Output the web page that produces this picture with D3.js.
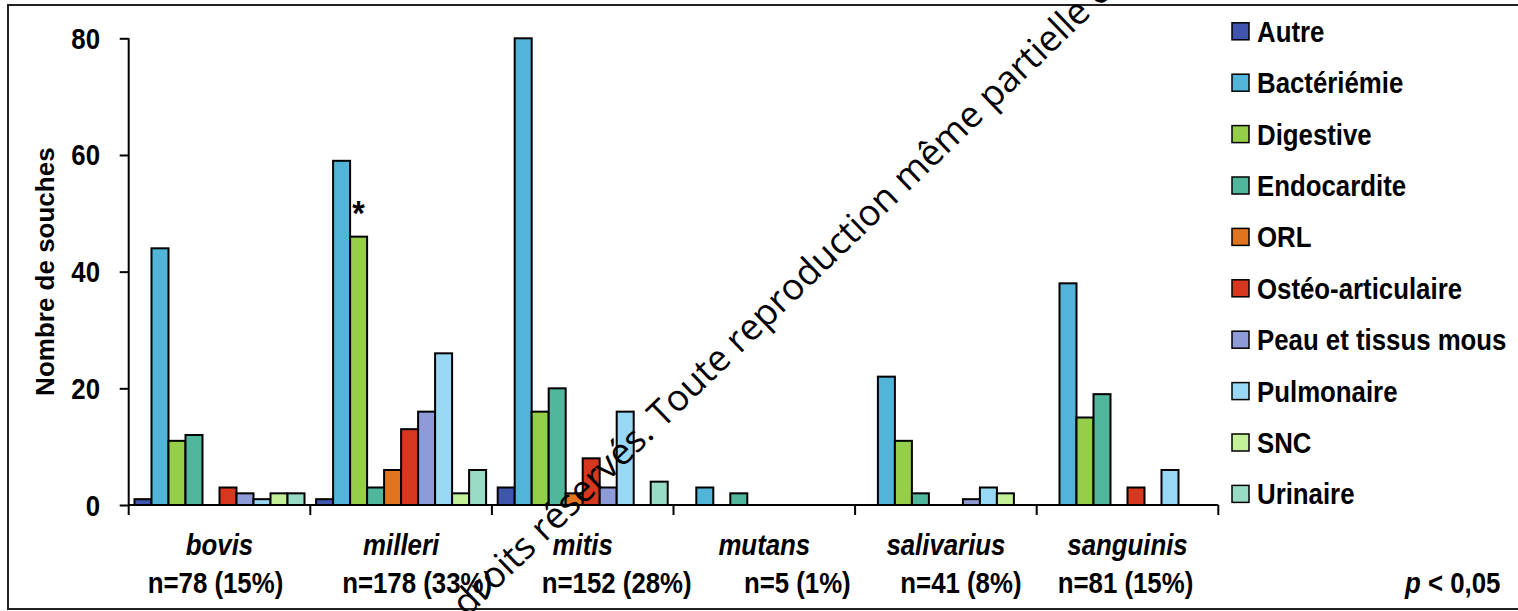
<!DOCTYPE html>
<html>
<head>
<meta charset="utf-8">
<script src="https://cdn.jsdelivr.net/npm/d3@7"></script>
<style>
  html, body { margin: 0; padding: 0; background: #fff; }
  svg { display: block; }
  .lbl { font-family: "Liberation Sans", Arial, sans-serif; font-weight: bold; font-size: 29px; fill: #000; }
</style>
</head>
<body>
<svg id="chart" width="1518" height="611"></svg>
<script>
// Species (categories) and their sample sizes
const species = ["bovis", "milleri", "mitis", "mutans", "salivarius", "sanguinis"];
const speciesCounts = ["n=78 (15%)", "n=178 (33%)", "n=152 (28%)", "n=5 (1%)", "n=41 (8%)", "n=81 (15%)"];

// Infection sites (series)
const sites = ["Autre", "Bactériémie", "Digestive", "Endocardite", "ORL",
               "Ostéo-articulaire", "Peau et tissus mous", "Pulmonaire", "SNC", "Urinaire"];

// Number of strains per site, one value per species
const autre            = [1, 1, 3, 0, 0, 0];
const bacteriemie      = [44, 59, 80, 3, 22, 38];
const digestive        = [11, 46, 16, 0, 11, 15];
const endocardite      = [12, 3, 20, 2, 2, 19];
const orl              = [0, 6, 2, 0, 0, 0];
const osteoArticulaire = [3, 13, 8, 0, 0, 3];
const peauTissusMous   = [2, 16, 3, 0, 1, 0];
const pulmonaire       = [1, 26, 16, 0, 3, 6];
const snc              = [2, 2, 0, 0, 2, 0];
const urinaire         = [2, 6, 4, 0, 0, 0];

const yTicks = [0, 20, 40, 60, 80];
const yTitle = "Nombre de souches";
const pValue = ["p", " < 0,05"];
// Significance marker: milleri / Digestive
const starSpecies = "milleri", starSite = "Digestive";

const siteColors = ["#4055ac", "#51b4d8", "#95cf4a", "#50b69c", "#e0741f",
                    "#d5381f", "#8f9bd7", "#99d8f4", "#c5f09a", "#98dcc5"];

// Horizontal offsets of the sample-size lines under each species name
const countShift = [-4, 16, 34, 33, 15, -2];

const values = [autre, bacteriemie, digestive, endocardite, orl,
                osteoArticulaire, peauTissusMous, pulmonaire, snc, urinaire];

const svg = d3.select("#chart");
const squeeze = 0.89;

// Outer frame
svg.append("path")
  .attr("d", "M1530,5 H8 V609 H1530")
  .attr("fill", "none").attr("stroke", "#222").attr("stroke-width", 2);

const plot = { left: 128.7, right: 1218.3, top: 38.3, bottom: 505 };

const x0 = d3.scaleBand().domain(species).range([plot.left, plot.right]).padding(0);
const x1 = d3.scaleBand().domain(sites).range([0, x0.bandwidth()])
  .paddingInner(0).paddingOuter(0.341);
const y = d3.scaleLinear().domain([0, 80]).range([plot.bottom, plot.top]);
const color = d3.scaleOrdinal().domain(sites).range(siteColors);

function sq(sel, x, yy) {
  return sel.attr("transform", `translate(${x},${yy}) scale(${squeeze},1)`);
}

// Bars
const barData = [];
species.forEach((sp, i) => {
  sites.forEach((s, j) => {
    const v = values[j][i];
    if (v > 0) barData.push({ sp, s, v });
  });
});

svg.append("g").selectAll("rect").data(barData).join("rect")
  .attr("x", d => x0(d.sp) + x1(d.s))
  .attr("y", d => y(d.v))
  .attr("width", x1.bandwidth())
  .attr("height", d => y(0) - y(d.v))
  .attr("fill", d => color(d.s))
  .attr("stroke", "#000")
  .attr("stroke-width", 2);

// Y axis
const yAxis = svg.append("g").attr("transform", `translate(${plot.left},0)`)
  .call(d3.axisLeft(y).tickValues(yTicks).tickSize(9).tickFormat(""));
yAxis.select(".domain").attr("stroke", "#000").attr("stroke-width", 2)
  .attr("d", `M0,${plot.top}V${plot.bottom}`);
yAxis.selectAll(".tick line").attr("stroke", "#000").attr("stroke-width", 2);

svg.append("g").selectAll("text").data(yTicks).join("text")
  .attr("class", "lbl").attr("text-anchor", "end")
  .each(function (d) { sq(d3.select(this), 100, y(d) + 10.5); })
  .text(d => d);

svg.append("text").attr("class", "lbl")
  .attr("transform", `translate(54,${(plot.top + plot.bottom) / 2}) rotate(-90)`)
  .attr("text-anchor", "middle").style("font-size", "26px")
  .text(yTitle);

// X axis with ticks at category boundaries
const xAxis = svg.append("g");
xAxis.append("line")
  .attr("x1", plot.left).attr("x2", plot.right)
  .attr("y1", plot.bottom).attr("y2", plot.bottom)
  .attr("stroke", "#000").attr("stroke-width", 2);
const bounds = species.map(s => x0(s)).concat([plot.right]);
xAxis.selectAll(".bt").data(bounds).join("line").attr("class", "bt")
  .attr("x1", d => d).attr("x2", d => d)
  .attr("y1", plot.bottom).attr("y2", plot.bottom + 10)
  .attr("stroke", "#000").attr("stroke-width", 2);

const names = svg.append("g");
species.forEach((sp, i) => {
  const cx = x0(sp) + x0.bandwidth() / 2;
  sq(names.append("text").attr("class", "lbl").attr("text-anchor", "middle")
    .style("font-style", "italic"), cx, 555).text(sp);
  sq(names.append("text").attr("class", "lbl").attr("text-anchor", "middle"),
    cx + countShift[i], 593).text(speciesCounts[i]);
});

// Significance star
const starV = values[sites.indexOf(starSite)][species.indexOf(starSpecies)];
sq(svg.append("text").attr("class", "lbl").attr("text-anchor", "middle")
  .style("font-size", "36px"),
  x0(starSpecies) + x1(starSite) + x1.bandwidth() / 2, y(starV) - 12).text("*");

// p-value note
const pt = sq(svg.append("text").attr("class", "lbl"), 1405, 593);
pt.append("tspan").style("font-style", "italic").text(pValue[0]);
pt.append("tspan").text(pValue[1]);

// Legend
const legend = svg.append("g");
sites.forEach((s, j) => {
  const cy = 31.3 + j * 51.4;
  legend.append("rect")
    .attr("x", 1232).attr("y", cy - 8.5).attr("width", 17).attr("height", 17)
    .attr("fill", color(s)).attr("stroke", "#000").attr("stroke-width", 1.5);
  sq(legend.append("text").attr("class", "lbl"), 1257, cy + 10.5).text(s);
});

// Diagonal copyright notice across the chart
svg.append("text")
  .attr("transform", "translate(467,618) rotate(-44)")
  .style("font-family", "'Open Sans', 'Noto Sans', sans-serif")
  .style("font-size", "36.5px").style("fill", "#000")
  .text("droits réservés. Toute reproduction même partielle e");
</script>
</body>
</html>
